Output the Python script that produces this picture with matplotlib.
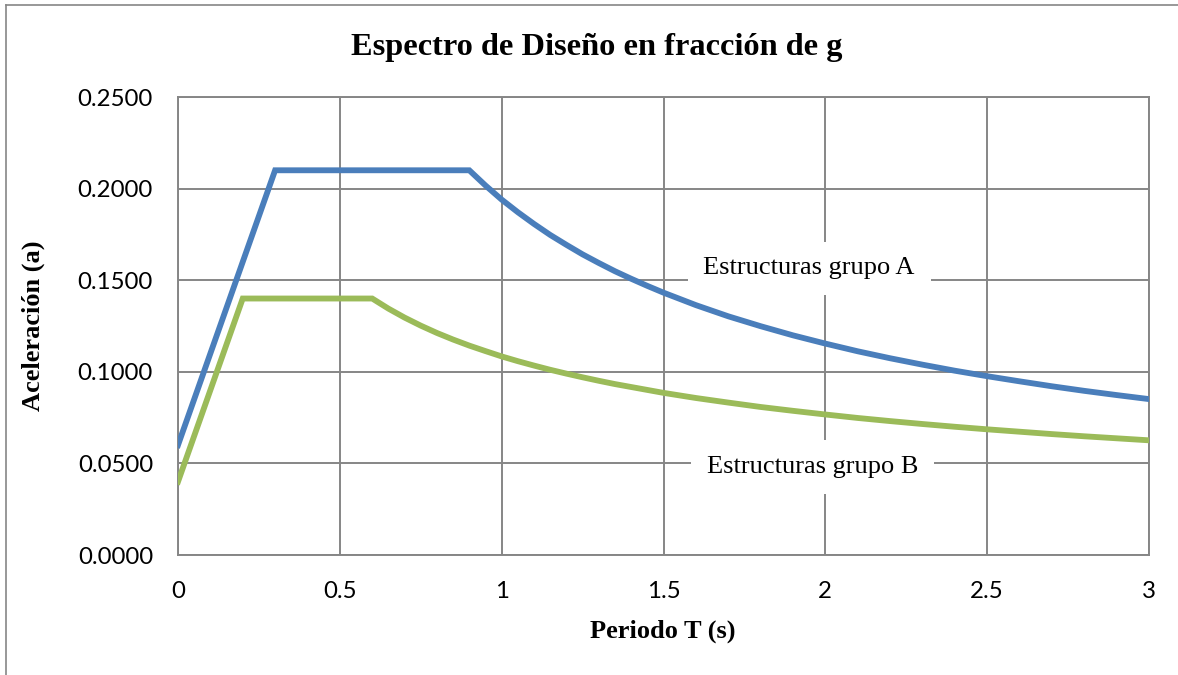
import matplotlib
matplotlib.use("Agg")
import matplotlib.pyplot as plt
from matplotlib.lines import Line2D

# Periodo T (s) y aceleracion espectral (fraccion de g)
periodo_a = [0.0, 0.3, 0.9, 0.95, 1.0, 1.05, 1.1, 1.15, 1.2, 1.25, 1.3, 1.35, 1.4,
             1.45, 1.5, 1.6, 1.7, 1.8, 1.9, 2.0, 2.1, 2.2, 2.3, 2.4, 2.5, 2.6, 2.7,
             2.8, 2.9, 3.0]
acel_a = [0.0600, 0.2100, 0.2100, 0.2017, 0.1940, 0.1871, 0.1807, 0.1747, 0.1693,
          0.1641, 0.1594, 0.1549, 0.1508, 0.1469, 0.1432, 0.1364, 0.1303, 0.1249,
          0.1199, 0.1154, 0.1112, 0.1074, 0.1039, 0.1006, 0.0976, 0.0948, 0.0921,
          0.0896, 0.0873, 0.0851]

periodo_b = [0.0, 0.2, 0.6, 0.65, 0.7, 0.75, 0.8, 0.85, 0.9, 0.95, 1.0, 1.05, 1.1,
             1.15, 1.2, 1.25, 1.3, 1.35, 1.4, 1.45, 1.5, 1.6, 1.7, 1.8, 1.9, 2.0,
             2.1, 2.2, 2.3, 2.4, 2.5, 2.6, 2.7, 2.8, 2.9, 3.0]
acel_b = [0.0400, 0.1400, 0.1400, 0.1345, 0.1296, 0.1252, 0.1212, 0.1176, 0.1143,
          0.1113, 0.1084, 0.1058, 0.1034, 0.1011, 0.0990, 0.0970, 0.0951, 0.0933,
          0.0917, 0.0901, 0.0885, 0.0857, 0.0832, 0.0808, 0.0787, 0.0767, 0.0748,
          0.0731, 0.0715, 0.0700, 0.0686, 0.0673, 0.0660, 0.0648, 0.0637, 0.0626]

x_ticks = [0, 0.5, 1, 1.5, 2, 2.5, 3]
x_tick_labels = ["0", "0.5", "1", "1.5", "2", "2.5", "3"]
y_ticks = [0.0, 0.05, 0.10, 0.15, 0.20, 0.25]

AZUL = "#4A7EBB"
VERDE = "#9BBB59"
GRIS = "#868686"

W, H = 1178, 675
fig = plt.figure(figsize=(W / 100, H / 100), dpi=100)
fig.patch.set_facecolor("white")

# borde del area del grafico (solo se ven izquierda y arriba)
fig.add_artist(Line2D([6 / W, 6 / W], [0, 1 - 5 / H], color=GRIS, lw=1.2))
fig.add_artist(Line2D([6 / W, 1], [1 - 5 / H, 1 - 5 / H], color=GRIS, lw=1.2))

ax = fig.add_axes([178 / W, 1 - 555 / H, (1149 - 178) / W, (555 - 97) / H])
ax.set_xlim(0, 3)
ax.set_ylim(0, 0.25)

ax.plot(periodo_a, acel_a, color=AZUL, lw=4.2, solid_joinstyle="miter", zorder=3)
ax.plot(periodo_b, acel_b, color=VERDE, lw=4.2, solid_joinstyle="miter", zorder=3)

ax.set_xticks(x_ticks)
ax.set_xticklabels(x_tick_labels)
ax.set_yticks(y_ticks)
ax.set_yticklabels([f"{v:.4f}" for v in y_ticks])
ax.tick_params(length=0, labelsize=17.3, colors="black")
ax.tick_params(axis="y", pad=18)
ax.tick_params(axis="x", pad=19)
for lab in ax.get_xticklabels() + ax.get_yticklabels():
    lab.set_fontfamily("Lato")

ax.grid(True, color=GRIS, lw=1.4, zorder=0)
ax.set_axisbelow(True)
for s in ax.spines.values():
    s.set_color(GRIS)
    s.set_linewidth(1.4)

serif = "Liberation Serif"
fig.text(597 / W, 1 - 47 / H, "Espectro de Diseño en fracción de g", ha="center", va="center",
         fontsize=23.3, fontweight="bold", family=serif)
fig.text(663 / W, 1 - 631 / H, "Periodo T (s)", ha="center", va="center",
         fontsize=19, fontweight="bold", family=serif)
fig.text(33 / W, 1 - 326 / H, "Aceleración (a)", ha="center", va="center", rotation=90,
         fontsize=19, fontweight="bold", family=serif)

# etiquetas de cada curva sobre fondo blanco
ax.text(1.95, 0.1564, "Estructuras grupo A", ha="center", va="center", fontsize=19,
        family=serif, zorder=2,
        bbox=dict(boxstyle="square,pad=0.6", fc="white", ec="none"))
ax.text(1.96, 0.0480, "Estructuras grupo B", ha="center", va="center", fontsize=19,
        family=serif, zorder=2,
        bbox=dict(boxstyle="square,pad=0.6", fc="white", ec="none"))

fig.savefig("out.png", dpi=100)
